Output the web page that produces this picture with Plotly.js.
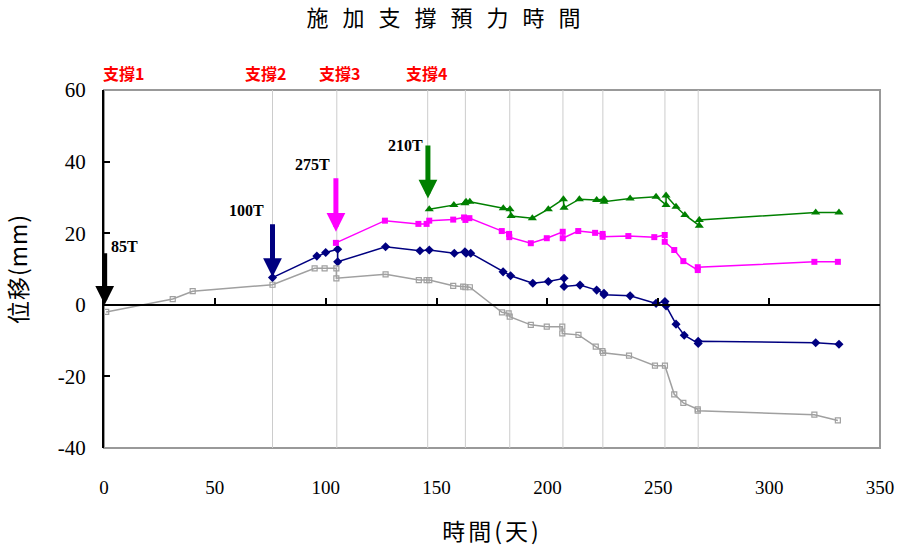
<!DOCTYPE html>
<html>
<head>
<meta charset="utf-8">
<script src="https://cdn.plot.ly/plotly-3.0.1.min.js"></script>
<style>
  html, body { margin: 0; padding: 0; background: #fff; }
  .gtitle { letter-spacing: 14px; }
  .xtitle { letter-spacing: 3px; }
  .ytitle { letter-spacing: 1px; }
</style>
</head>
<body>
<div id="chart" style="width:901px;height:552px;"></div>
<script>
// ---- data ----
var grayX = [1, 31, 40, 76, 95, 99.5, 104.8, 104.8, 127, 142, 145.5, 146.7, 157.5, 162, 163, 165, 179.5, 182.5, 183, 192.5, 199.7, 206.7, 206.7, 214, 221.8, 224.8, 225.1, 236.8, 248.5, 253, 257.2, 261.3, 267.8, 267.8, 320.4, 331];
var grayY = [-2.0, 1.6, 3.8, 5.6, 10.2, 10.2, 10.2, 7.4, 8.5, 6.9, 6.9, 6.9, 5.3, 5.1, 4.9, 4.9, -2.1, -2.4, -3.3, -5.6, -6.1, -6.1, -8.0, -8.4, -11.7, -12.9, -13.4, -14.2, -17.0, -17.0, -25.0, -27.4, -29.2, -29.6, -30.7, -32.3];

var navyX = [76, 96, 100, 105.4, 105.4, 127, 142.5, 146.7, 158, 162.8, 163.3, 165.4, 180, 183.4, 193.4, 200.4, 207.5, 207.5, 214.7, 222.2, 225.5, 225.5, 237.3, 249, 253, 253.5, 258, 261.7, 268, 268, 321, 331.5];
var navyY = [7.6, 13.6, 14.6, 15.5, 12.0, 16.2, 15.1, 15.3, 14.4, 14.8, 14.4, 14.4, 9.2, 8.1, 6.0, 6.5, 7.4, 5.1, 5.5, 4.1, 3.2, 2.8, 2.5, 0.4, 0.9, -0.3, -5.4, -8.5, -10.8, -10.2, -10.6, -11.0];

var magentaX = [104.6, 126.7, 141.8, 145.5, 146.7, 157.5, 162.4, 163, 164.8, 179.4, 182.7, 182.8, 192.5, 199.7, 206.9, 206.9, 213.9, 221.5, 224.9, 224.9, 236.5, 248.2, 252.9, 252.9, 257.2, 261.3, 267.8, 267.8, 320.4, 331];
var magentaY = [17.3, 23.5, 22.6, 22.6, 23.5, 23.8, 24.4, 23.7, 24.2, 20.6, 19.8, 18.9, 17.2, 18.6, 20.4, 18.6, 20.6, 20.1, 19.8, 19.0, 19.2, 18.9, 19.5, 17.6, 15.3, 12.2, 9.7, 10.5, 12.0, 12.0];

var greenX = [146.7, 157.8, 162.8, 163.3, 165, 180.1, 183.1, 183.6, 193.2, 200.4, 207.2, 207.5, 214.4, 222.2, 225.5, 225.5, 237.3, 249, 253.5, 253.5, 258, 262, 268.5, 268.5, 321, 331.5];
var greenY = [26.7, 27.9, 28.4, 28.8, 28.8, 27.0, 26.7, 24.8, 24.2, 26.7, 29.5, 27.1, 29.5, 29.3, 29.5, 28.8, 29.7, 30.2, 27.9, 30.5, 27.4, 25.1, 22.1, 23.7, 25.8, 25.8];

// vertical reference lines (days)
var refDays = [76, 105, 146, 163, 183, 207, 225, 253, 268];

// support labels
var supportLabels = ['支撐1', '支撐2', '支撐3', '支撐4'];
var supportDays = [9, 73, 106.3, 145.5];

// preload arrows
var loadLabels = ['85T', '100T', '275T', '210T'];
var loadLabelX = [9.2, 64.4, 94.1, 135.8];
var loadLabelY = [16.4, 26.3, 39.3, 44.6];
var arrowDay = [0.3, 76, 104.6, 146.1];
var arrowTop = [14.8, 22.9, 35.8, 44.9];
var arrowTip = [0, 7.8, 20.4, 29.7];
var arrowColors = ['#000000', '#000080', '#ff00ff', '#008000'];

var xTicks = [0, 50, 100, 150, 200, 250, 300, 350];
var yTicks = [-40, -20, 0, 20, 40, 60];

// ---- traces ----
var traces = [
  { x: grayX, y: grayY, mode: 'lines+markers', type: 'scatter', xaxis: 'x2',
    line: { color: '#a0a0a0', width: 1.5 },
    marker: { symbol: 'square-open', size: 5, color: '#a0a0a0', line: { width: 1.2, color: '#a0a0a0' } } },
  { x: navyX, y: navyY, mode: 'lines+markers', type: 'scatter',
    line: { color: '#000080', width: 1.5 },
    marker: { symbol: 'diamond', size: 7, color: '#000080' } },
  { x: magentaX, y: magentaY, mode: 'lines+markers', type: 'scatter',
    line: { color: '#ff00ff', width: 1.5 },
    marker: { symbol: 'square', size: 6, color: '#ff00ff' } },
  { x: greenX, y: greenY, mode: 'lines+markers', type: 'scatter',
    line: { color: '#008000', width: 1.5 },
    marker: { symbol: 'triangle-up', size: 8, color: '#008000' } }
];

// ---- shapes ----
var shapes = [{
  type: 'rect', xref: 'paper', yref: 'paper', x0: 0, x1: 1, y0: 0, y1: 1,
  line: { color: '#999999', width: 2 }, layer: 'below'
}];
refDays.forEach(function (d) {
  shapes.push({ type: 'line', xref: 'x', yref: 'paper', x0: d, x1: d, y0: 0, y1: 1,
    line: { color: '#cccccc', width: 1 }, layer: 'below' });
});

// ---- annotations ----
var annotations = [];
supportLabels.forEach(function (t, i) {
  annotations.push({ text: t, xref: 'x', yref: 'paper', x: supportDays[i], y: 1.047,
    showarrow: false, xanchor: 'center', yanchor: 'middle',
    font: { family: 'Noto Sans CJK TC', size: 16, color: '#ff0000', weight: 'bold' } });
});
loadLabels.forEach(function (t, i) {
  annotations.push({ text: t, xref: 'x', yref: 'y', x: loadLabelX[i], y: loadLabelY[i],
    showarrow: false, xanchor: 'center', yanchor: 'middle',
    font: { family: 'Liberation Serif', size: 16, color: '#000000', weight: 'bold' } });
  annotations.push({ text: '', xref: 'x', yref: 'y', x: arrowDay[i], y: arrowTip[i],
    axref: 'x', ayref: 'y', ax: arrowDay[i], ay: arrowTop[i],
    showarrow: true, arrowhead: 2, arrowwidth: 5, arrowsize: 0.75,
    arrowcolor: arrowColors[i], standoff: 0 });
});

var layout = {
  width: 901, height: 552,
  margin: { l: 104, r: 21, t: 90, b: 104 },
  paper_bgcolor: '#ffffff', plot_bgcolor: '#ffffff',
  showlegend: false,
  title: { text: '施加支撐預力時間', x: 0.5, xref: 'container', y: 0.967, yref: 'container',
    xanchor: 'center', yanchor: 'middle',
    font: { family: 'Noto Sans CJK TC', size: 22, color: '#000000' } },
  xaxis: {
    range: [0, 350], tickvals: xTicks, ticktext: xTicks.map(String),
    showgrid: false, zeroline: false, showline: false, ticks: '',
    tickfont: { family: 'Liberation Serif', size: 19, color: '#000000' },
    ticklabelstandoff: 26,
    title: { text: '時間(天)', font: { family: 'Noto Sans CJK TC', size: 23, color: '#000000' }, standoff: 26 },
    fixedrange: true
  },
  xaxis2: {
    overlaying: 'x', anchor: 'free', position: 0.4, range: [0, 350],
    tickvals: xTicks, ticks: 'inside', ticklen: 6, tickwidth: 2, tickcolor: '#000000',
    showline: true, linecolor: '#000000', linewidth: 2,
    showticklabels: false, showgrid: false, zeroline: false, fixedrange: true
  },
  yaxis: {
    range: [-40, 60], tickvals: yTicks, ticktext: yTicks.map(String),
    ticks: 'inside', ticklen: 6, tickwidth: 2, tickcolor: '#000000',
    showline: true, linecolor: '#000000', linewidth: 2,
    showgrid: false, zeroline: false,
    tickfont: { family: 'Liberation Serif', size: 21, color: '#000000' },
    ticklabelstandoff: 12,
    title: { text: '位移(mm)', font: { family: 'Noto Sans CJK TC', size: 23, color: '#000000' }, standoff: 32 },
    fixedrange: true
  },
  shapes: shapes,
  annotations: annotations
};

Plotly.newPlot('chart', traces, layout, { displayModeBar: false, staticPlot: true });
</script>
</body>
</html>
